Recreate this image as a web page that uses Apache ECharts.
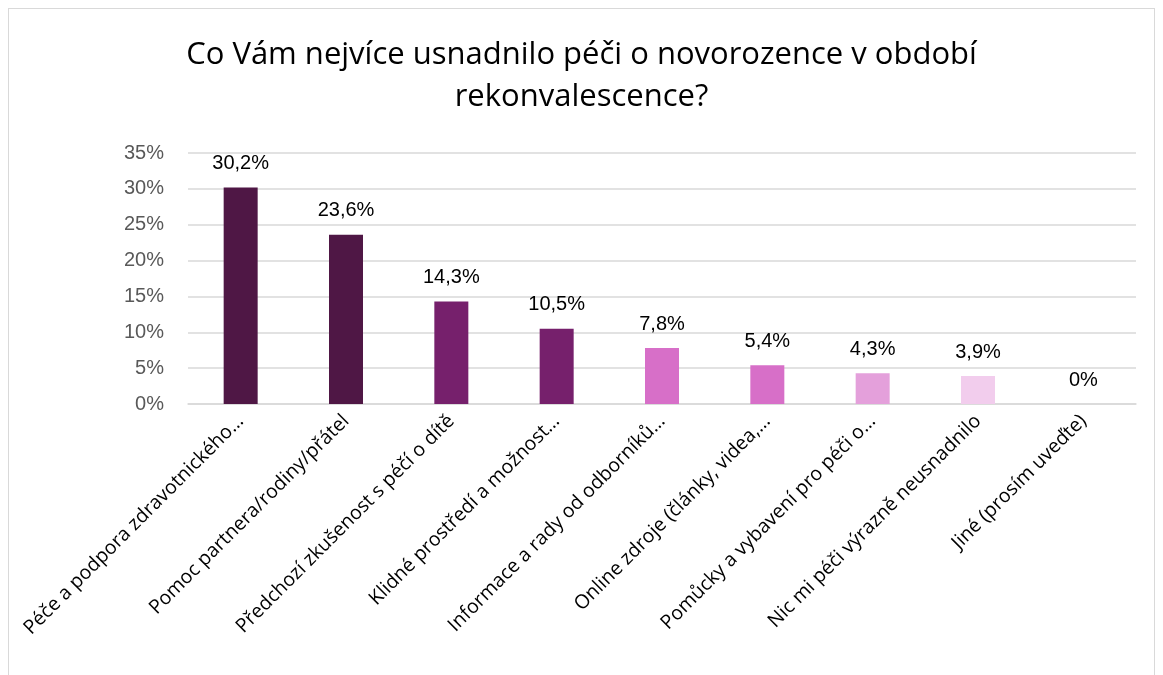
<!DOCTYPE html>
<html>
<head>
<meta charset="utf-8">
<script src="https://cdn.jsdelivr.net/npm/echarts@6/dist/echarts.min.js"></script>
<style>
  html, body { margin: 0; padding: 0; background: #fff; }
  #chart { position: absolute; left: 8px; top: 8px; width: 1147px; height: 680px;
           border: 1px solid #d9d9d9; box-sizing: border-box; }
</style>
</head>
<body>
<div id="chart"></div>
<script>
const categories = [
  "Péče a podpora zdravotnického…",
  "Pomoc partnera/rodiny/přátel",
  "Předchozí zkušenost s péčí o dítě",
  "Klidné prostředí a možnost…",
  "Informace a rady od odborníků…",
  "Online zdroje (články, videa,…",
  "Pomůcky a vybavení pro péči o…",
  "Nic mi péči výrazně neusnadnilo",
  "Jiné (prosím uveďte)"
];
const values = [30.2, 23.6, 14.3, 10.5, 7.8, 5.4, 4.3, 3.9, 0];
const barColors = ["#4f1745", "#4f1745", "#76206c", "#76206c", "#d76fc8", "#d76fc8", "#e4a0db", "#f2cded", "#f2cded"];

const chart = echarts.init(document.getElementById("chart"));

const option = {
  title: {
    text: "Co Vám nejvíce usnadnilo péči o novorozence v období\nrekonvalescence?",
    left: "center",
    top: 20,
    textStyle: {
      fontFamily: "Open Sans",
      fontWeight: "normal",
      fontSize: 31,
      lineHeight: 42,
      color: "#000"
    }
  },
  grid: {
    left: 179,
    right: 18,
    top: 144,
    bottom: 283
  },
  xAxis: {
    type: "category",
    data: categories,
    axisTick: { show: false },
    axisLine: { lineStyle: { color: "#d9d9d9", width: 1.5 } },
    axisLabel: {
      interval: 0,
      rotate: 45,
      margin: 14,
      fontFamily: "Open Sans",
      fontSize: 19.5,
      color: "#000"
    }
  },
  yAxis: {
    type: "value",
    min: 0,
    max: 35,
    interval: 5,
    axisLabel: {
      formatter: "{value}%",
      fontFamily: "Liberation Sans",
      fontSize: 20,
      color: "#595959",
      margin: 24
    },
    splitLine: { lineStyle: { color: "#d9d9d9", width: 1.5 } }
  },
  series: [
    {
      type: "bar",
      data: values.map((v, i) => ({ value: v, itemStyle: { color: barColors[i] } })),
      barWidth: 34,
      label: {
        show: true,
        position: "top",
        distance: 14,
        fontFamily: "Liberation Sans",
        fontSize: 20,
        color: "#000",
        formatter: p => (p.value === 0 ? "0%" : p.value.toFixed(1).replace(".", ",") + "%")
      }
    }
  ]
};

chart.setOption(option);
</script>
</body>
</html>
